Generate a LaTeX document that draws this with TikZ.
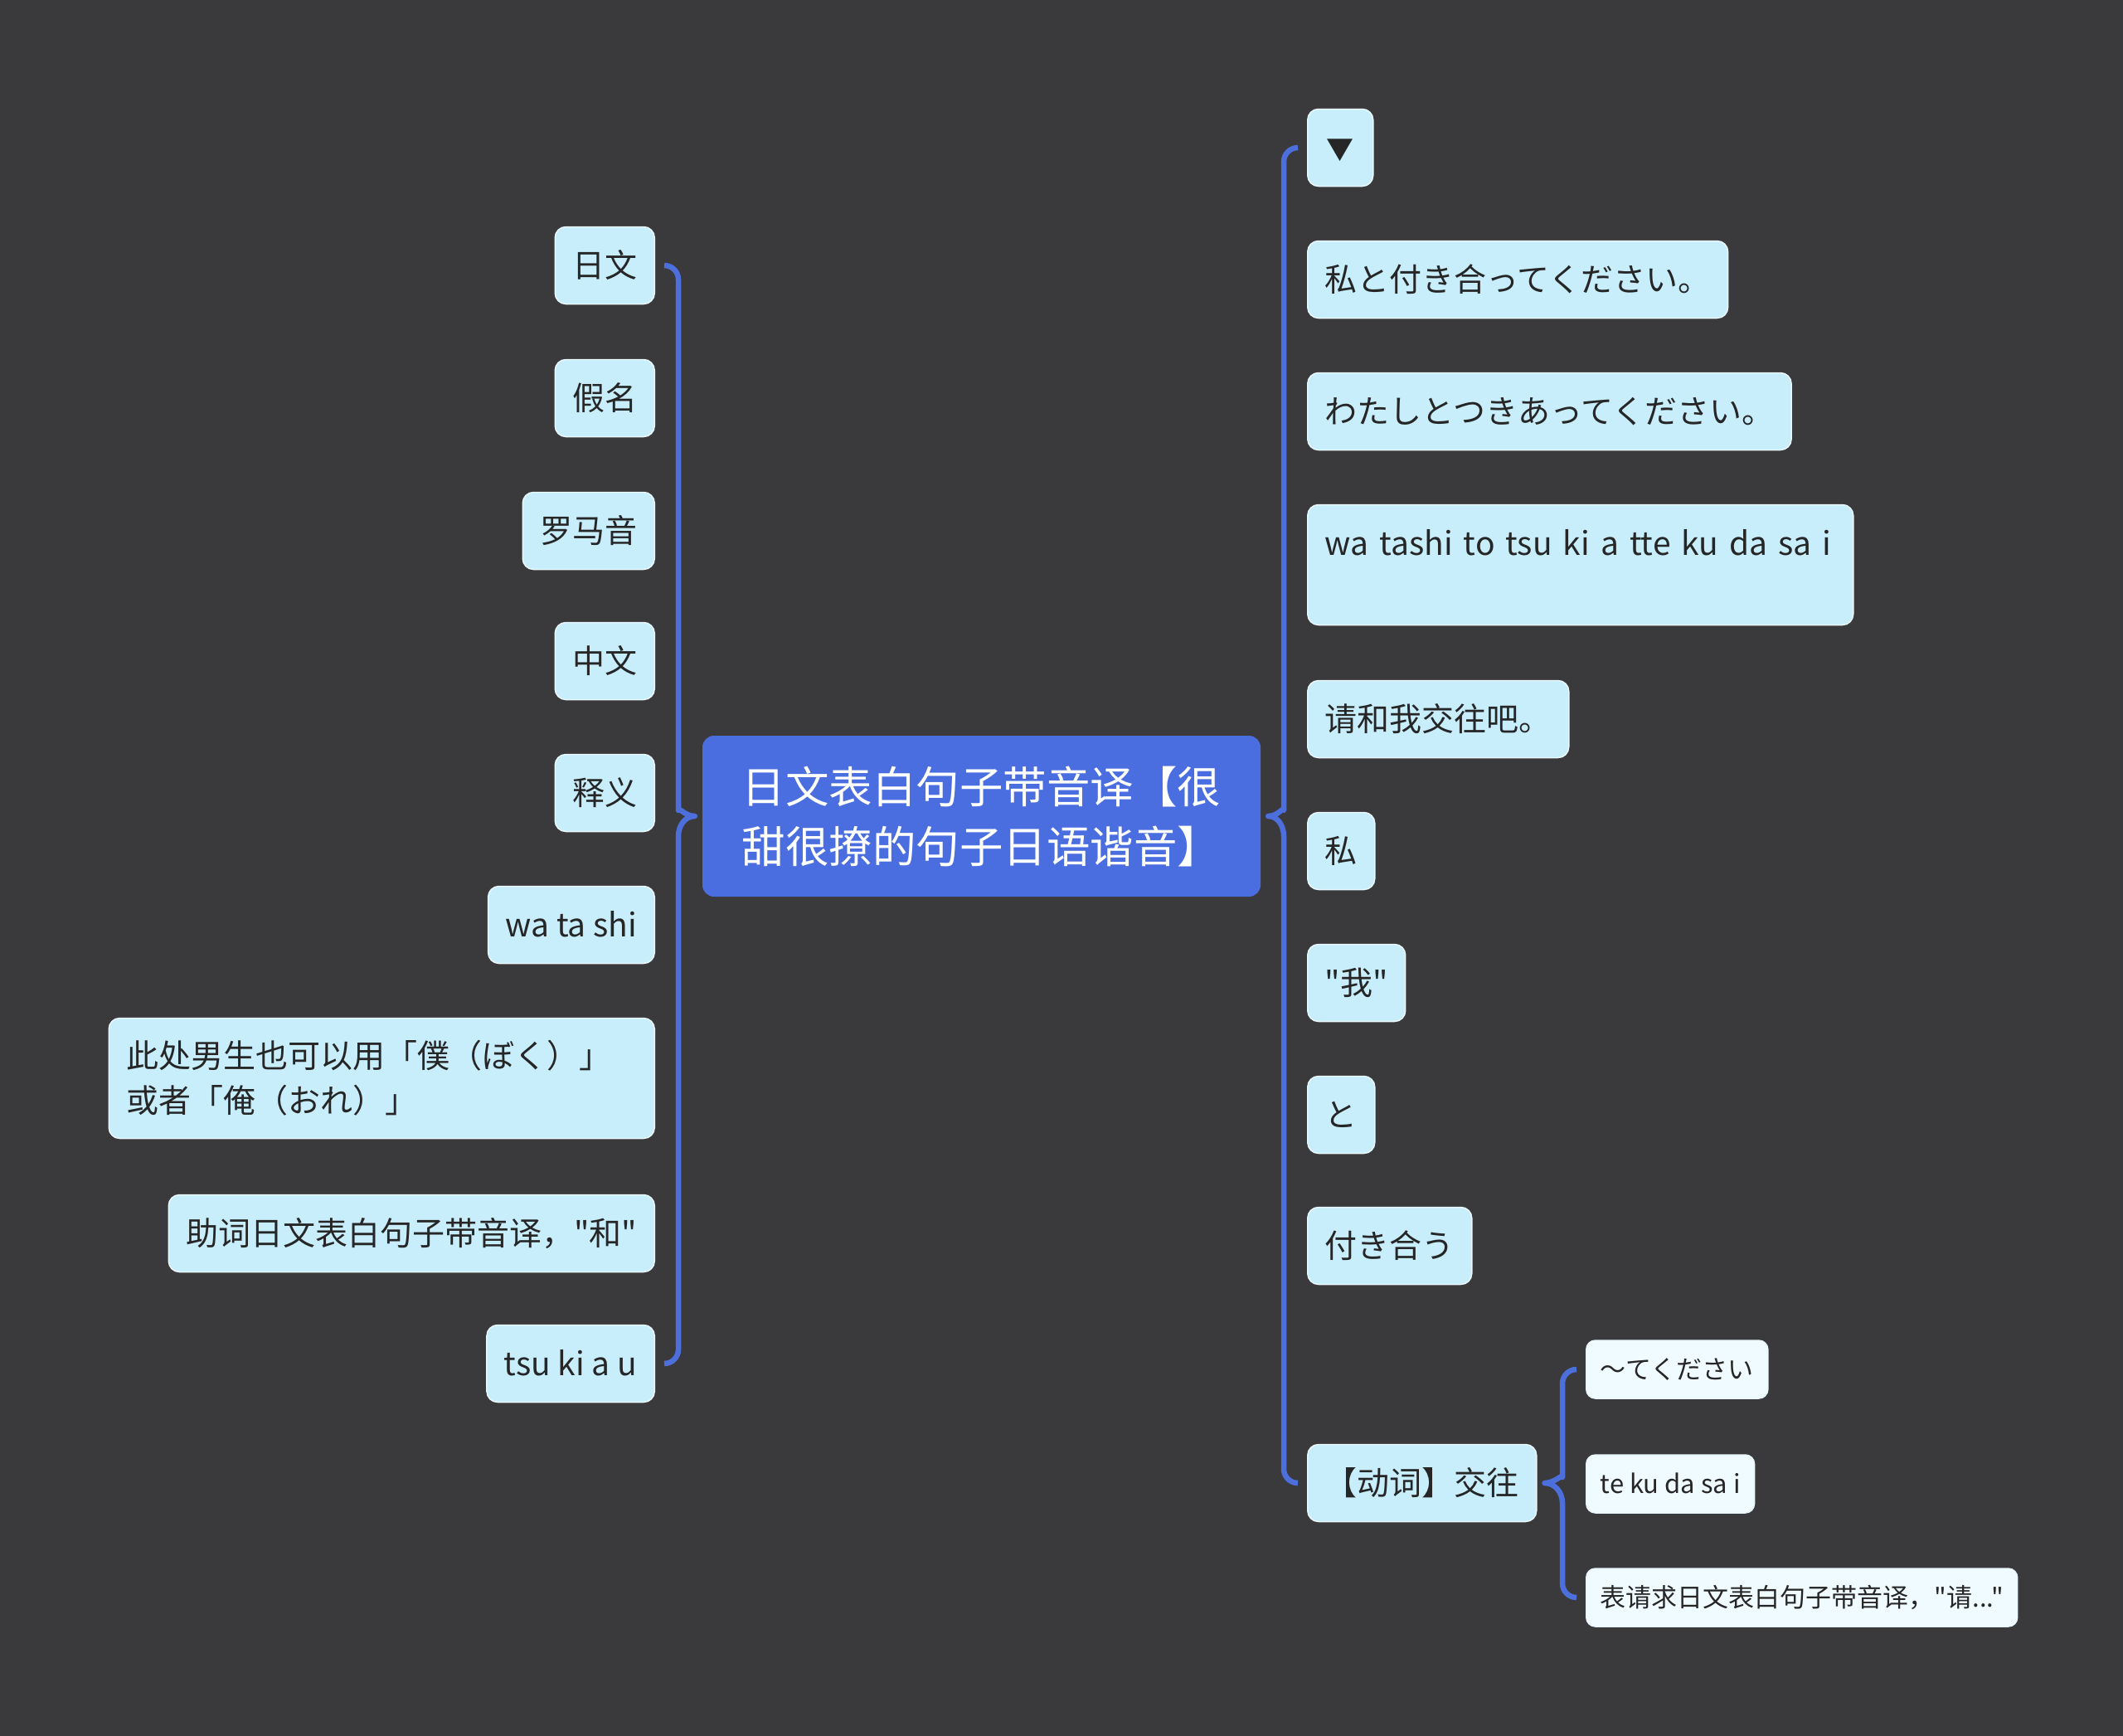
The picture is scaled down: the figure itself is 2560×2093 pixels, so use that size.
\documentclass[tikz,border=0pt]{standalone}
\usepackage{fontspec}
\setmainfont{Noto Sans CJK SC}[Ligatures=TeXOff]
\definecolor{fond}{HTML}{3A393B}
\definecolor{bleu}{HTML}{4A6EE0}
\definecolor{trait}{HTML}{4C6FDC}
\definecolor{clair}{HTML}{C8EEFC}
\definecolor{blanc}{HTML}{F0FBFF}
\definecolor{encre}{HTML}{262626}
\tikzset{
  boite/.style={rectangle,rounded corners=13pt,fill=clair,draw=white!60!clair,line width=1.5pt,text=encre,
    inner xsep=21pt,inner ysep=0pt,font=\fontsize{39}{54}\selectfont},
  leaf/.style={boite,minimum height=93pt,text height=34pt,text depth=5pt},
  leafs/.style={boite,align=left,text width=616pt,minimum height=145pt},
  subleaf/.style={boite,rounded corners=11pt,fill=blanc,inner xsep=17pt,minimum height=70pt,
    text height=27pt,text depth=4pt,font=\fontsize{31}{40}\selectfont},
  root/.style={rectangle,rounded corners=14pt,fill=bleu,text=white,align=center,
    minimum width=673pt,minimum height=194pt,font=\fontsize{52.5}{72}\selectfont},
  brace/.style={draw=trait,line width=6.5pt,line join=round}
}
\begin{document}
\begin{tikzpicture}[x=1pt,y=-1pt]
  \fill[fond] (0,0) rectangle (2560,2093);
  \node[root] (root) at (1183.5,984) {日文表白句子带音译【很\\甜很撩的句子日语谐音】};
  % gauche
  \node[leaf,anchor=east] (l1) at (790,320) {日文};
  \node[leaf,anchor=east] (l2) at (790,480) {假名};
  \node[leaf,anchor=east] (l3) at (790,640) {罗马音};
  \node[leaf,anchor=east] (l4) at (790,797) {中文};
  \node[leaf,anchor=east] (l5) at (790,956) {释义};
  \node[leaf,anchor=east] (l6) at (790,1115) {wa ta shi};
  \node[leafs,anchor=east] (l7) at (790,1300) {此处男生也可以用「僕（ぼく）」\\或者「俺（おれ）」};
  \node[leaf,anchor=east] (l8) at (790,1487) {助词日文表白句子带音译，"和"};
  \node[leaf,anchor=east] (l9) at (790,1644) {tsu ki a u};
  % droite
  \node[leaf,anchor=west] (r1) at (1576,178) {\makebox[37pt]{\fontsize{33}{33}\selectfont ▼}};
  \node[leaf,anchor=west] (r2) at (1576,337) {私と付き合ってください。};
  \node[leaf,anchor=west] (r3) at (1576,496) {わたしとつきあってください。};
  \node[leafs,anchor=west] (r4) at (1576,681) {wa tashi to tsu ki a tte ku da sa i\\~};
  \node[leaf,anchor=west] (r5) at (1576,867) {请和我交往吧。};
  \node[leaf,anchor=west] (r6) at (1576,1026) {私};
  \node[leaf,anchor=west] (r7) at (1576,1185) {"我"};
  \node[leaf,anchor=west] (r8) at (1576,1344) {と};
  \node[leaf,anchor=west] (r9) at (1576,1502) {付き合う};
  \node[leaf,anchor=west] (r10) at (1576,1788) {【动词】交往};
  \node[subleaf,anchor=west] (s1) at (1912,1651) {〜てください};
  \node[subleaf,anchor=west] (s2) at (1912,1789) {te ku da sa i};
  \node[subleaf,anchor=west] (s3) at (1912,1926) {表请求日文表白句子带音译，"请..."};
  % accolades
  \coordinate (lk) at (818,984);
  \coordinate (rk) at (1548,984);
  \coordinate (sk) at (1884,1788);
  \draw[brace] ([xshift=11]l1.east) [rounded corners=17pt] -| ([yshift=24]lk) [sharp corners]
    to[out=-90,in=180] ([xshift=-9]root.west) to[out=180,in=90] ([yshift=-24]lk)
    [rounded corners=17pt] |- ([xshift=11]l9.east);
  \draw[brace] ([xshift=-11]r1.west) [rounded corners=17pt] -| ([yshift=24]rk) [sharp corners]
    to[out=-90,in=0] ([xshift=9]root.east) to[out=0,in=90] ([yshift=-24]rk)
    [rounded corners=17pt] |- ([xshift=-11]r10.west);
  \draw[brace] ([xshift=-11]s1.west) [rounded corners=17pt] -| ([yshift=24]sk) [sharp corners]
    to[out=-90,in=0] ([xshift=9]r10.east) to[out=0,in=90] ([yshift=-24]sk)
    [rounded corners=17pt] |- ([xshift=-11]s3.west);%sous-branche
\end{tikzpicture}
\end{document}
